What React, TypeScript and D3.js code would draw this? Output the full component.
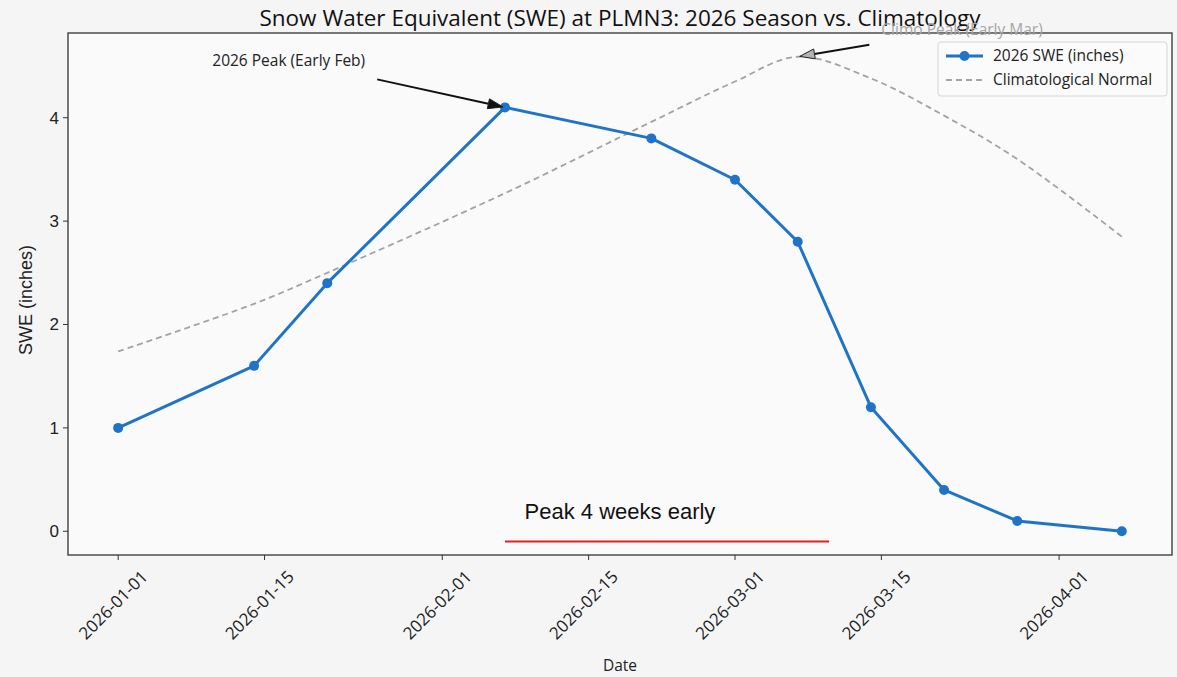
import React, { useEffect, useRef } from "react";
import * as d3 from "d3";

// Observation dates and 2026 snow water equivalent (inches)
const obsDates = [
  "2026-01-01", "2026-01-14", "2026-01-21", "2026-02-07", "2026-02-21", "2026-03-01",
  "2026-03-07", "2026-03-14", "2026-03-21", "2026-03-28", "2026-04-07",
];
const swe2026 = [1.0, 1.6, 2.4, 4.1, 3.8, 3.4, 2.8, 1.2, 0.4, 0.1, 0.0];
// Climatological normal SWE on the same dates
const climoNormal = [1.74, 2.2, 2.5, 3.27, 3.96, 4.35, 4.59, 4.38, 4.02, 3.6, 2.85];

const xTickLabels = ["2026-01-01", "2026-01-15", "2026-02-01", "2026-02-15", "2026-03-01", "2026-03-15", "2026-04-01"];
const yTickValues = [0, 1, 2, 3, 4];

const titleText = "Snow Water Equivalent (SWE) at PLMN3: 2026 Season vs. Climatology";
const seriesNames = ["2026 SWE (inches)", "Climatological Normal"];

// Annotations: arrow target and text anchor, in data units
const annotationLabels = ["2026 Peak (Early Feb)", "Climo Peak (Early Mar)"];
const annotationTargets = [["2026-02-07", 4.1], ["2026-03-07", 4.59]] as const;
const annotationTextAt = [["2026-01-10", 4.5], ["2026-03-15", 4.8]] as const;

// Early-peak bracket
const bracketLabel = "Peak 4 weeks early";
const bracketLabelAt = ["2026-02-18", 0.12] as const;
const bracketRange = ["2026-02-07", "2026-03-10"];
const bracketValue = -0.1;

const W = 1177;
const H = 677;
const M = { left: 68, right: 1172, top: 33, bottom: 555 };
const BLUE = "#1f74c8";
const SANS = "'Open Sans', 'DejaVu Sans', sans-serif";
const ARIAL = "'Liberation Sans', Arial, sans-serif";

export default function App() {
  const ref = useRef<SVGSVGElement | null>(null);

  useEffect(() => {
    const svg = d3.select(ref.current);
    svg.selectAll("*").remove();
    const parse = d3.utcParse("%Y-%m-%d");
    const dates = obsDates.map((s) => parse(s) as Date);

    const t0 = +dates[0];
    const t1 = +dates[dates.length - 1];
    const xPad = (t1 - t0) * 0.05;
    const x = d3.scaleUtc().domain([new Date(t0 - xPad), new Date(t1 + xPad)]).range([M.left, M.right]);

    const yMax = d3.max([...swe2026, ...climoNormal]) as number;
    const yMin = 0;
    const yPad = (yMax - yMin) * 0.05;
    const y = d3.scaleLinear().domain([yMin - yPad, yMax + yPad]).range([M.bottom, M.top]);

    svg.append("rect").attr("width", W).attr("height", H).attr("fill", "#f5f5f6");
    svg.append("rect")
      .attr("x", M.left).attr("y", M.top)
      .attr("width", M.right - M.left).attr("height", M.bottom - M.top)
      .attr("fill", "#fafafb");

    // climatological normal
    const climoLine = d3.line<number>()
      .x((_, i) => x(dates[i]))
      .y((d) => y(d))
      .curve(d3.curveCatmullRom.alpha(0.5));
    svg.append("path")
      .attr("d", climoLine(climoNormal))
      .attr("fill", "none")
      .attr("stroke", "#a3a3a3")
      .attr("stroke-width", 1.8)
      .attr("stroke-dasharray", "6,4");

    // 2026 season
    const sweLine = d3.line<number>().x((_, i) => x(dates[i])).y((d) => y(d));
    svg.append("path")
      .attr("d", sweLine(swe2026))
      .attr("fill", "none")
      .attr("stroke", BLUE)
      .attr("stroke-width", 3)
      .attr("stroke-linejoin", "round");
    svg.append("g").selectAll("circle").data(swe2026).join("circle")
      .attr("cx", (_, i) => x(dates[i]))
      .attr("cy", (d) => y(d))
      .attr("r", 5)
      .attr("fill", BLUE);

    // early peak bracket
    const b0 = parse(bracketRange[0]) as Date;
    const b1 = parse(bracketRange[1]) as Date;
    svg.append("line")
      .attr("x1", x(b0)).attr("x2", x(b1))
      .attr("y1", y(bracketValue)).attr("y2", y(bracketValue))
      .attr("stroke", "#e0231c").attr("stroke-width", 2);
    svg.append("text")
      .attr("x", x(parse(bracketLabelAt[0]) as Date))
      .attr("y", y(bracketLabelAt[1]))
      .attr("text-anchor", "middle")
      .attr("font-family", ARIAL)
      .attr("font-size", 22)
      .attr("fill", "#111")
      .text(bracketLabel);

    // frame
    svg.append("rect")
      .attr("x", M.left).attr("y", M.top)
      .attr("width", M.right - M.left).attr("height", M.bottom - M.top)
      .attr("fill", "none").attr("stroke", "#222").attr("stroke-width", 1.2);

    // y axis
    const gy = svg.append("g");
    yTickValues.forEach((v) => {
      gy.append("line")
        .attr("x1", M.left - 5).attr("x2", M.left)
        .attr("y1", y(v)).attr("y2", y(v))
        .attr("stroke", "#333");
      gy.append("text")
        .attr("x", M.left - 9).attr("y", y(v))
        .attr("dy", "0.35em")
        .attr("text-anchor", "end")
        .attr("font-family", ARIAL).attr("font-size", 17).attr("fill", "#222")
        .text(String(v));
    });
    svg.append("text")
      .attr("transform", `translate(32,300) rotate(-90)`)
      .attr("text-anchor", "middle")
      .attr("font-family", ARIAL).attr("font-size", 18).attr("fill", "#222")
      .text("SWE (inches)");

    // x axis
    const gx = svg.append("g");
    xTickLabels.forEach((s) => {
      const xv = x(parse(s) as Date);
      gx.append("line")
        .attr("x1", xv).attr("x2", xv)
        .attr("y1", M.bottom).attr("y2", M.bottom + 5)
        .attr("stroke", "#333");
      gx.append("text")
        .attr("transform", `translate(${xv - 5},${M.bottom + 50}) rotate(-45)`)
        .attr("text-anchor", "middle")
        .attr("dy", "0.35em")
        .attr("font-family", SANS).attr("font-size", 17).attr("fill", "#222")
        .text(s);
    });
    svg.append("text")
      .attr("x", (M.left + M.right) / 2)
      .attr("y", 671)
      .attr("text-anchor", "middle")
      .attr("font-family", SANS).attr("font-size", 15.5).attr("fill", "#222")
      .text("Date");

    // title
    svg.append("text")
      .attr("x", 620).attr("y", 26)
      .attr("text-anchor", "middle")
      .attr("font-family", SANS).attr("font-size", 22.5).attr("fill", "#111")
      .text(titleText);

    // annotations with arrows
    const annStyles = [
      { text: "#222", line: "#111", head: "#111" },
      { text: "#a6a6a6", line: "#111", head: "#b3b3b3" },
    ];
    annotationLabels.forEach((label, i) => {
      const tx = x(parse(annotationTextAt[i][0]) as Date);
      const ty = y(annotationTextAt[i][1]);
      const px = x(parse(annotationTargets[i][0]) as Date);
      const py = y(annotationTargets[i][1]);
      const t = svg.append("text")
        .attr("x", tx).attr("y", ty)
        .attr("font-family", SANS).attr("font-size", 15.5).attr("fill", annStyles[i].text)
        .text(label);
      const bb = (t.node() as SVGTextElement).getBBox();
      const cx = bb.x + bb.width / 2;
      const cy = bb.y + bb.height / 2;
      const dx = px - cx;
      const dy = py - cy;
      // leave the text box along the line toward the target
      const sx = Math.abs(dx) > 0 ? (bb.width / 2 + 12) / Math.abs(dx) : 1;
      const sy = Math.abs(dy) > 0 ? (bb.height / 2 + 10) / Math.abs(dy) : 1;
      const s0 = Math.min(sx, sy);
      const x0 = cx + dx * s0;
      const y0 = cy + dy * s0;
      const len = Math.hypot(px - x0, py - y0);
      const ux = (px - x0) / len;
      const uy = (py - y0) / len;
      const tipX = px - ux * 2;
      const tipY = py - uy * 2;
      const hl = 15;
      const hw = 5;
      const bx = tipX - ux * hl;
      const by = tipY - uy * hl;
      svg.append("line")
        .attr("x1", x0).attr("y1", y0).attr("x2", bx).attr("y2", by)
        .attr("stroke", annStyles[i].line).attr("stroke-width", 2);
      svg.append("path")
        .attr("d", `M${tipX},${tipY}L${bx - uy * hw},${by + ux * hw}L${bx + uy * hw},${by - ux * hw}Z`)
        .attr("fill", annStyles[i].head)
        .attr("stroke", "#222").attr("stroke-width", 1);
    });

    // legend
    const lg = svg.append("g").attr("transform", "translate(938,42)");
    lg.append("rect")
      .attr("width", 229).attr("height", 54).attr("rx", 3)
      .attr("fill", "#fbfbfc").attr("fill-opacity", 0.9)
      .attr("stroke", "#d6d6d6");
    lg.append("line").attr("x1", 8).attr("x2", 45).attr("y1", 14).attr("y2", 14)
      .attr("stroke", BLUE).attr("stroke-width", 3);
    lg.append("circle").attr("cx", 26.5).attr("cy", 14).attr("r", 5).attr("fill", BLUE);
    lg.append("line").attr("x1", 8).attr("x2", 45).attr("y1", 38).attr("y2", 38)
      .attr("stroke", "#a3a3a3").attr("stroke-width", 1.8).attr("stroke-dasharray", "6,4");
    seriesNames.forEach((n, i) => {
      lg.append("text")
        .attr("x", 55).attr("y", 14 + i * 24).attr("dy", "0.35em")
        .attr("font-family", SANS).attr("font-size", 15.5).attr("fill", "#222")
        .text(n);
    });
  }, []);

  return (
    <svg
      ref={ref}
      width={W}
      height={H}
      style={{ position: "absolute", left: 0, top: 0, display: "block" }}
    />
  );
}
